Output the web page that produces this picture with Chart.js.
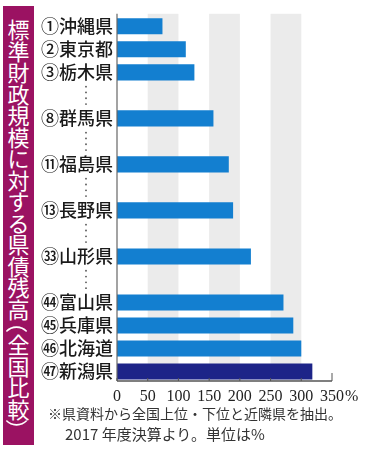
<!DOCTYPE html>
<html>
<head>
<meta charset="utf-8">
<script src="https://cdn.jsdelivr.net/npm/chart.js@4/dist/chart.umd.min.js"></script>
<style>
  html, body { margin: 0; padding: 0; background: #fff; }
  #wrap { position: relative; width: 365px; height: 450px; overflow: hidden; }
  #c { position: absolute; left: 0; top: 0; width: 365px; height: 450px; }
  #title {
    position: absolute; left: 3px; top: 6px; width: 31px; height: 439px;
    background: #9b1262; display: flex; flex-direction: column;
    align-items: center; justify-content: center;
  }
  #title div {
    width: 31px; height: 21.5px; line-height: 21.5px; text-align: center; flex: none;
    color: #fff; font-family: "Noto Sans CJK JP", sans-serif; font-size: 22px;
    overflow: visible;
  }
  #title div.open { height: 14px; line-height: 14px; transform: translateY(-4px) rotate(90deg); }
  #title div.close { height: 14px; line-height: 14px; transform: translateY(4px) rotate(90deg); }
  .note { position: absolute; font-family: "Noto Sans CJK JP", sans-serif;
    line-height: 18px; color: #333; white-space: nowrap; }
  #note1 { left: 48px; top: 404px; font-size: 14px; }
  #note2 { left: 65px; top: 425px; font-size: 15px; }
</style>
</head>
<body>
<div id="wrap">
  <canvas id="c" width="365" height="450"></canvas>
  <div id="title"></div>
  <div class="note" id="note1">※県資料から全国上位・下位と近隣県を抽出。</div>
  <div class="note" id="note2">2017 年度決算より。単位は%</div>
</div>
<script>
// ---- data ----
const titleText = '標準財政規模に対する県債残高（全国比較）';
const ranks = ['①', '②', '③', '', '⑧', '', '⑪', '', '⑬', '', '㉝', '', '㊹', '㊺', '㊻', '㊼'];
const prefectures = ['沖縄県', '東京都', '栃木県', '', '群馬県', '', '福島県', '', '長野県', '', '山形県', '', '富山県', '兵庫県', '北海道', '新潟県'];
const values = [74, 112, 126, null, 157, null, 182, null, 189, null, 218, null, 271, 287, 300, 318];
const xTicks = [0, 50, 100, 150, 200, 250, 300, 350];
const shadedRanges = [[50, 100], [150, 200], [250, 300]];
const highlighted = '新潟県';

// ---- vertical title ----
const titleEl = document.getElementById('title');
for (const ch of titleText) {
  const d = document.createElement('div');
  d.textContent = ch;
  if (ch === '（') d.className = 'open';
  if (ch === '）') d.className = 'close';
  titleEl.appendChild(d);
}

// ---- styles ----
const BLUE = '#137fd0';
const NAVY = '#1d2488';
const labels = ranks.map((r, i) => r + prefectures[i]);
const colors = prefectures.map(p => p === highlighted ? NAVY : BLUE);

const decor = {
  id: 'decor',
  beforeDatasetsDraw(chart) {
    const { ctx, chartArea, scales: { x } } = chart;
    const axisY = chartArea.bottom - 2;
    ctx.save();
    ctx.fillStyle = '#ebebeb';
    shadedRanges.forEach(([a, b]) => {
      const x1 = x.getPixelForValue(a), x2 = x.getPixelForValue(b);
      ctx.fillRect(x1, chartArea.top - 1, x2 - x1, axisY - chartArea.top + 1);
    });
    ctx.restore();
  },
  afterDraw(chart) {
    const { ctx, chartArea, scales: { x, y } } = chart;
    const axisY = chartArea.bottom - 2;
    ctx.save();
    // y axis line
    ctx.strokeStyle = '#666';
    ctx.lineWidth = 1.2;
    ctx.beginPath();
    ctx.moveTo(chartArea.left, chartArea.top - 1);
    ctx.lineTo(chartArea.left, axisY);
    ctx.stroke();
    // x axis line
    ctx.strokeStyle = '#555';
    ctx.lineWidth = 1.5;
    ctx.beginPath();
    ctx.moveTo(chartArea.left, axisY);
    ctx.lineTo(x.getPixelForValue(350), axisY);
    ctx.stroke();
    // tick marks
    ctx.lineWidth = 1;
    xTicks.forEach(v => {
      const px = x.getPixelForValue(v);
      const len = v === 350 ? 8 : 3;
      ctx.beginPath();
      ctx.moveTo(px, axisY);
      ctx.lineTo(px, axisY - len);
      ctx.stroke();
    });
    // percent sign after last tick
    ctx.font = '16px "Liberation Serif", serif';
    ctx.fillStyle = '#222';
    ctx.textBaseline = 'middle';
    ctx.textAlign = 'left';
    const last = xTicks[xTicks.length - 1];
    const w = ctx.measureText(String(last)).width;
    ctx.fillText('%', x.getPixelForValue(last) + w / 2 + 1, chartArea.bottom + 4 + 9.6);
    // vertical dots for omitted rows
    ctx.fillStyle = '#555';
    prefectures.forEach((p, i) => {
      if (p) return;
      const cy = y.getPixelForValue(i);
      [-8.7, -2.9, 2.9, 8.7].forEach(d => {
        ctx.beginPath();
        ctx.arc(86, cy + d, 0.9, 0, Math.PI * 2);
        ctx.fill();
      });
    });
    ctx.restore();
  }
};

new Chart(document.getElementById('c'), {
  type: 'bar',
  data: {
    labels: labels,
    datasets: [{
      data: values,
      backgroundColor: colors,
      borderWidth: 0,
      barPercentage: 0.7,
      categoryPercentage: 1
    }]
  },
  options: {
    indexAxis: 'y',
    responsive: false,
    animation: false,
    devicePixelRatio: 1,
    layout: { padding: { top: 6, right: 33, bottom: 37, left: 0 } },
    plugins: { legend: { display: false }, tooltip: { enabled: false } },
    scales: {
      x: {
        min: 0, max: 350,
        afterFit: s => { s.height = 30; },
        afterBuildTicks: s => { s.ticks = xTicks.map(v => ({ value: v })); },
        grid: { display: false, drawTicks: false },
        border: { display: false },
        ticks: {
          font: { family: '"Liberation Serif", serif', size: 16 },
          color: '#222', padding: 4, maxRotation: 0, autoSkip: false,
          callback: v => String(v)
        }
      },
      y: {
        afterFit: s => { s.width = 117; },
        grid: { display: false, drawTicks: false },
        border: { display: false },
        ticks: {
          font: { family: '"Noto Sans CJK JP", sans-serif', size: 18, weight: '500' },
          color: '#1a1a1a', padding: 4, autoSkip: false
        }
      }
    }
  },
  plugins: [decor]
});
</script>
</body>
</html>
